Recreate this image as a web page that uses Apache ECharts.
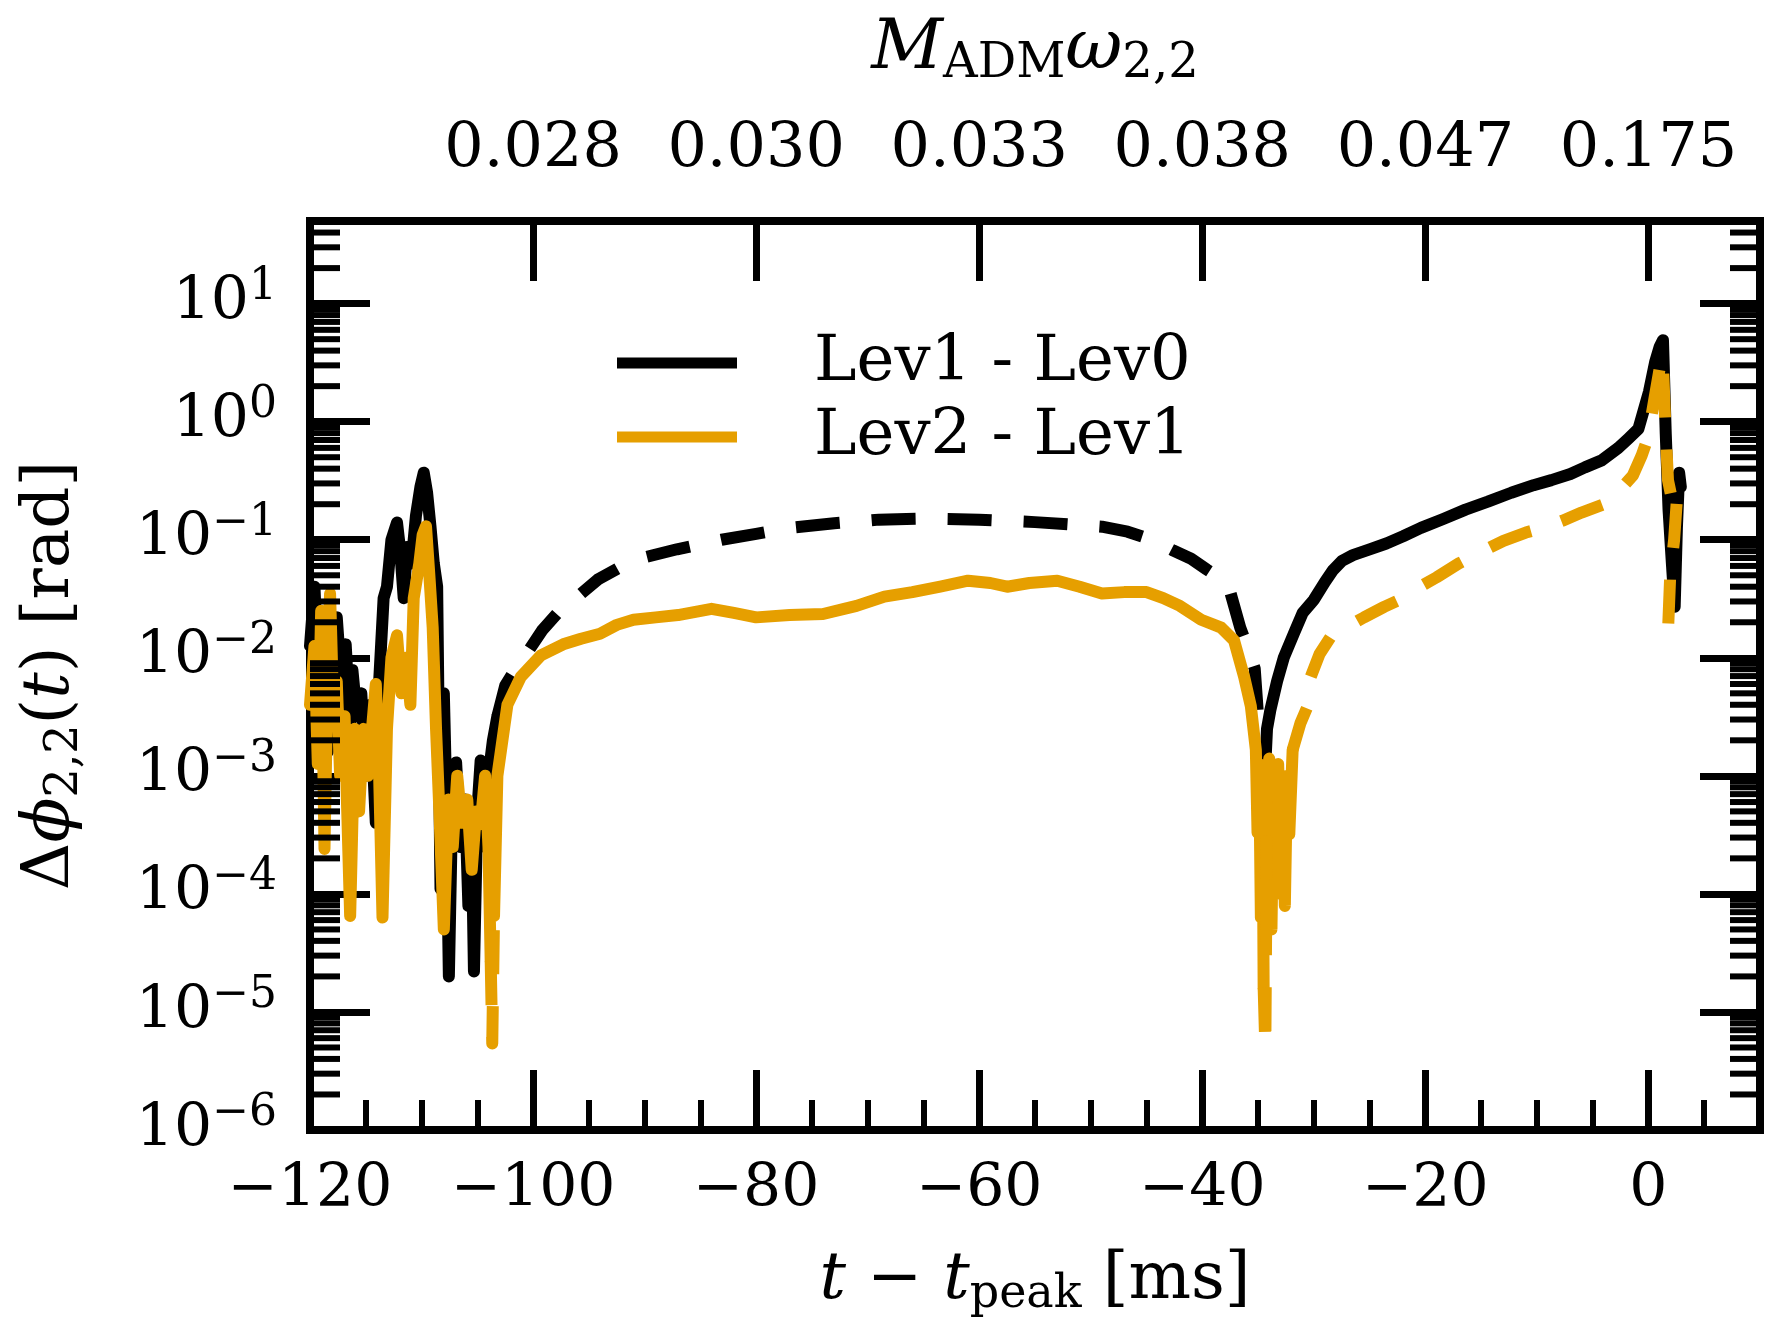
<!DOCTYPE html>
<html>
<head>
<meta charset="utf-8">
<script src="https://cdn.jsdelivr.net/npm/echarts@6/dist/echarts.min.js"></script>
<style>
  html, body { margin: 0; padding: 0; background: #ffffff; }
  #chart { width: 1767px; height: 1331px; }
</style>
</head>
<body>
<div id="chart"></div>
<script>
const FONT = 'DejaVu Serif';
const BLACK = '#000000';
const ORANGE = '#E69F00';

// Frequency labels of the top axis, placed at the given times
const topTickTimes = [-100, -80, -60, -40, -20, 0];
const topTickLabels = ['0.028', '0.030', '0.033', '0.038', '0.047', '0.175'];

// Lev1 - Lev0 : |delta phi_22| in rad against t - t_peak in ms
const lev10Time = [
  -120.0, -119.6, -119.2, -118.8, -118.4, -118.0, -117.6, -117.2, -116.8, -116.4,
  -116.2, -115.8, -115.4, -115.0, -114.6, -114.1, -113.8, -113.4, -113.1, -112.7,
  -112.2, -111.9, -111.6, -111.3, -110.9, -110.5, -110.1, -109.8, -109.5, -109.2,
  -108.9, -108.6, -108.3, -108.0, -107.8, -107.55, -107.2, -106.9, -106.5, -106.1,
  -105.8, -105.5, -105.3, -105.0, -104.7, -104.3, -104.0, -103.6, -103.2,
  -102.5, -101.5, -100.4, -99.2, -97.8, -96.0, -94.2, -92.0, -90.0, -87.1,
  -83.1, -80.0, -77.0, -73.0, -69.0, -64.9, -60.0, -55.0, -52.0, -49.0,
  -46.7, -44.5, -42.6, -41.0, -39.6, -38.5, -37.6, -36.6, -35.9, -35.3,
  -35.0, -34.85, -34.8,
  -34.5, -34.2, -33.9, -33.3, -32.7, -31.8, -31.0, -30.0, -29.0, -28.3,
  -27.5, -26.5, -25.0, -23.5, -22.0, -20.4, -18.4, -16.4, -14.4, -12.3,
  -10.3, -8.7, -7.0, -5.7, -4.2, -2.7, -1.8, -0.9, 0.05, 0.6,
  1.0, 1.3, 1.55, 1.8, 2.1, 2.35, 2.55, 2.75, 2.9
];
const lev10Dphi = [
  1.26e-2, 4.0e-2, 5.0e-3, 1.6e-2, 1.6e-3, 1.8e-2, 2.2e-2, 6.3e-3, 1.3e-2, 2.5e-3,
  7.9e-3, 3.2e-3, 5.0e-3, 1.0e-3, 4.0e-3, 4.0e-4, 6.3e-3, 3.2e-2, 4.0e-2, 0.10,
  0.14, 7.9e-2, 3.2e-2, 8.7e-2, 6.3e-2, 0.16, 0.28, 0.37, 0.25, 0.13,
  6.3e-2, 4.0e-2, 1.1e-4, 5.0e-3, 7.9e-4, 2.0e-5, 1.0e-3, 1.3e-3, 2.5e-4, 6.3e-4,
  7.9e-5, 3.2e-4, 2.2e-5, 5.0e-4, 1.35e-3, 2.5e-4, 1.0e-3, 2.0e-3, 3.2e-3,
  5.8e-3, 8.3e-3, 1.15e-2, 1.7e-2, 2.4e-2, 3.3e-2, 4.6e-2, 6.0e-2, 7.1e-2, 8.3e-2,
  0.100, 0.112, 0.126, 0.138, 0.148, 0.151, 0.148, 0.141, 0.135, 0.129,
  0.117, 0.100, 8.1e-2, 6.9e-2, 5.6e-2, 4.8e-2, 3.9e-2, 1.8e-2, 1.2e-2, 8.1e-3,
  3.2e-3, 1.0e-3, 3.2e-4,
  6.3e-4, 2.5e-3, 3.6e-3, 6.3e-3, 1.0e-2, 1.6e-2, 2.4e-2, 3.1e-2, 4.4e-2, 5.5e-2,
  6.6e-2, 7.4e-2, 8.3e-2, 9.3e-2, 0.107, 0.126, 0.150, 0.180, 0.210, 0.250,
  0.290, 0.320, 0.360, 0.410, 0.470, 0.600, 0.720, 0.870, 1.8, 3.2,
  4.3, 4.9, 0.79, 0.18, 6.3e-2, 2.7e-2, 0.126, 0.37, 0.28
];
// spans of t where the difference is negative (drawn dashed)
const lev10DashedSpans = [[-103.2, -34.8]];

// Lev2 - Lev1
const lev21Time = [
  -120.0, -119.6, -119.3, -119.0, -118.7, -118.4, -118.2, -117.9, -117.6, -117.3,
  -116.9, -116.4, -116.0, -115.6, -115.2, -114.8, -114.1, -113.8, -113.5, -113.1,
  -112.7, -112.2, -111.8, -111.4, -111.0, -110.7, -110.2, -109.9, -109.6, -109.3,
  -109.0, -108.7, -108.4, -108.0, -107.6, -107.2, -106.8, -106.4, -105.9, -105.5,
  -105.1, -104.7, -104.3, -104.0, -103.8, -103.66, -103.5, -103.2, -102.3, -101.1,
  -99.3, -97.3, -95.7, -94.0, -92.5, -91.0, -89.0, -87.0, -84.0, -82.0,
  -80.0, -77.0, -74.0, -71.0, -68.5, -66.0, -63.5, -61.0, -59.0, -57.5,
  -55.5, -53.0, -51.0, -49.0, -47.0, -45.0, -43.5, -42.0, -40.1, -38.3,
  -37.15, -36.25, -35.65, -35.2, -35.05, -34.9, -34.75, -34.6, -34.5, -34.35,
  -34.2, -34.0, -33.8, -33.6, -33.4, -33.2, -33.0, -32.8, -32.6, -32.4,
  -32.2, -31.9, -31.2, -30.5, -30.3, -29.5, -28.5, -27.5, -26.7, -25.5,
  -23.7, -22.0, -20.5, -19.0, -17.0, -15.0, -13.0, -11.0, -9.0, -7.7,
  -6.0, -4.0, -2.8, -1.4, -0.6, -0.08, 0.5, 1.0, 1.27, 1.5,
  1.75, 2.3, 2.55, 2.3, 1.95, 1.75
];
const lev21Dphi = [
  4.0e-3, 1.26e-2, 1.26e-3, 2.5e-2, 2.4e-4, 1.0e-2, 3.5e-2, 3.2e-3, 6.3e-3, 1.0e-3,
  3.2e-3, 6.5e-5, 2.5e-3, 5.0e-4, 2.5e-3, 1.0e-3, 6.0e-3, 1.0e-3, 6.3e-5, 2.5e-3,
  1.0e-2, 1.55e-2, 5.0e-3, 1.0e-2, 4.0e-3, 3.2e-2, 6.3e-2, 0.11, 0.13, 5.0e-2,
  1.8e-2, 2.5e-3, 5.0e-4, 5.0e-5, 6.3e-4, 2.5e-4, 1.0e-3, 4.0e-4, 6.3e-4, 1.6e-4,
  5.0e-4, 3.9e-4, 1.0e-3, 2.5e-4, 2.7e-5, 5.4e-6, 6.5e-5, 1.0e-3, 4.0e-3, 6.9e-3,
  1.05e-2, 1.3e-2, 1.45e-2, 1.6e-2, 1.9e-2, 2.1e-2, 2.2e-2, 2.3e-2, 2.6e-2, 2.4e-2,
  2.2e-2, 2.3e-2, 2.35e-2, 2.75e-2, 3.3e-2, 3.6e-2, 4.0e-2, 4.5e-2, 4.3e-2, 4.0e-2,
  4.3e-2, 4.5e-2, 4.0e-2, 3.5e-2, 3.6e-2, 3.6e-2, 3.2e-2, 2.75e-2, 2.1e-2, 1.8e-2,
  1.4e-2, 6.9e-3, 3.9e-3, 1.66e-3, 3.3e-4, 1.26e-3, 6.3e-5, 7.9e-4, 1.6e-5, 5.0e-6,
  6.3e-4, 1.4e-3, 5.0e-5, 1.0e-3, 1.0e-4, 1.26e-3, 2.5e-4, 5.0e-4, 7.9e-5, 1.0e-3,
  3.2e-4, 1.66e-3, 2.8e-3, 4.0e-3, 6.8e-3, 1.07e-2, 1.5e-2, 1.66e-2, 1.9e-2, 2.2e-2,
  2.7e-2, 3.2e-2, 4.0e-2, 4.8e-2, 6.3e-2, 7.9e-2, 9.8e-2, 0.115, 0.130, 0.145,
  0.170, 0.200, 0.250, 0.350, 0.520, 0.720, 1.5, 2.8, 3.6, 1.0,
  0.32, 0.18, 0.22, 0.10, 5.0e-2, 1.66e-2
];
const lev21DashedSpans = [[-103.8, -103.5], [-34.5, -34.2], [-31.9, 3.0]];

// Split one curve into a solid part and a dashed part; span edges belong to both
function splitBySign(times, values, spans) {
  const solid = [];
  const dashed = [];
  for (let i = 0; i < times.length; i++) {
    const t = times[i];
    const v = values[i];
    const inside = spans.some(s => t > s[0] && t < s[1]);
    const edge = spans.some(s => t === s[0] || t === s[1]);
    solid.push(inside ? [t, null] : [t, v]);
    dashed.push(inside || edge ? [t, v] : [t, null]);
  }
  return { solid, dashed };
}

const lev10 = splitBySign(lev10Time, lev10Dphi, lev10DashedSpans);
const lev21 = splitBySign(lev21Time, lev21Dphi, lev21DashedSpans);

// log-axis minor tick positions (2..9 per decade)
const Y_MIN = 1e-6;
const Y_MAX = 50.12;
const minorTickVals = [];
for (let e = -6; e <= 1; e++) {
  for (let k = 2; k <= 9; k++) {
    const v = k * Math.pow(10, e);
    if (v < Y_MAX) minorTickVals.push([-120, v]);
  }
}

function logLabel(v) {
  const e = Math.log10(v);
  const r = Math.round(e);
  if (Math.abs(e - r) > 1e-6) return '';
  const sup = r < 0 ? '\u2212' + (-r) : String(r);
  return '{b|10}{s|' + sup + '}';
}

function timeLabel(v) {
  if (Math.abs(v % 20) > 1e-9) return '';
  return v < 0 ? '\u2212' + (-v) : String(v);
}

const LINE_W = 12;
const DASH = [44, 32];
const lineBase = { type: 'line', showSymbol: false, symbol: 'none', connectNulls: false, animation: false, clip: true };
const tickStyle = { show: true, inside: true, length: 60, lineStyle: { color: BLACK, width: 7 } };

const chart = echarts.init(document.getElementById('chart'), null, { renderer: 'canvas' });
chart.setOption({
  animation: false,
  backgroundColor: '#ffffff',
  textStyle: { fontFamily: FONT, color: BLACK },
  grid: {
    left: 310, right: 7, top: 221, bottom: 201,
    show: true, borderColor: BLACK, borderWidth: 8, backgroundColor: 'transparent'
  },
  legend: {
    data: ['Lev1 - Lev0', 'Lev2 - Lev1'],
    orient: 'vertical',
    left: 612, top: 326,
    icon: 'rect', itemWidth: 120, itemHeight: 11, itemGap: 10,
    selectedMode: false,
    textStyle: { fontFamily: FONT, fontSize: 64, color: BLACK, lineHeight: 64, padding: [0, 0, 0, 72] }
  },
  xAxis: [
    {
      type: 'value', position: 'bottom', min: -120, max: 10, interval: 20,
      axisLine: { show: false, onZero: false },
      splitLine: { show: false },
      axisTick: tickStyle,
      minorTick: { show: true, splitNumber: 4, length: 30, lineStyle: { color: BLACK, width: 6 } },
      axisLabel: { formatter: timeLabel, margin: 30, fontFamily: FONT, fontSize: 60, color: BLACK },
      name: '{i|t} \u2212 {i|t}{sub|peak} [ms]',
      nameLocation: 'middle', nameGap: 114,
      nameTextStyle: {
        fontFamily: FONT, fontSize: 66, color: BLACK,
        rich: {
          i: { fontFamily: FONT, fontSize: 66, fontStyle: 'italic', color: BLACK },
          sub: { fontFamily: FONT, fontSize: 46, color: BLACK, padding: [28, 0, 0, 0] }
        }
      }
    },
    {
      type: 'value', position: 'top', min: -120, max: 10, interval: 20,
      axisLine: { show: false, onZero: false },
      splitLine: { show: false },
      axisTick: tickStyle,
      minorTick: { show: false },
      axisLabel: {
        margin: 40, fontFamily: FONT, fontSize: 62, color: BLACK,
        formatter: v => {
          const i = topTickTimes.indexOf(v);
          return i >= 0 ? topTickLabels[i] : '';
        }
      },
      name: '{i|M}{sub|ADM}{i|\u03C9}{sub|2,2}',
      nameLocation: 'middle', nameGap: 132,
      nameTextStyle: {
        fontFamily: FONT, fontSize: 70, color: BLACK,
        rich: {
          i: { fontFamily: FONT, fontSize: 70, fontStyle: 'italic', color: BLACK },
          sub: { fontFamily: FONT, fontSize: 48, color: BLACK, padding: [30, 0, 0, 0] }
        }
      }
    }
  ],
  yAxis: [
    {
      type: 'log', logBase: 10, position: 'left', min: Y_MIN, max: Y_MAX, interval: 1,
      axisLine: { show: false, onZero: false },
      splitLine: { show: false },
      minorTick: { show: false },
      axisTick: tickStyle,
      axisLabel: {
        formatter: logLabel, margin: 33, color: BLACK,
        rich: {
          b: { fontFamily: FONT, fontSize: 60, color: BLACK },
          s: { fontFamily: FONT, fontSize: 44, color: BLACK, padding: [0, 0, 32, 0] }
        }
      },
      name: '\u0394{i|\u03D5}{sub|2,2}({i|t}) [rad]',
      nameLocation: 'middle', nameRotate: 90, nameGap: 222,
      nameTextStyle: {
        fontFamily: FONT, fontSize: 66, color: BLACK,
        rich: {
          i: { fontFamily: FONT, fontSize: 66, fontStyle: 'italic', color: BLACK },
          sub: { fontFamily: FONT, fontSize: 46, color: BLACK, padding: [28, 0, 0, 0] }
        }
      }
    },
    {
      type: 'log', logBase: 10, position: 'right', min: Y_MIN, max: Y_MAX, interval: 1,
      axisLine: { show: false, onZero: false },
      splitLine: { show: false },
      minorTick: { show: false },
      axisTick: tickStyle,
      axisLabel: { show: false }
    }
  ],
  series: [
    Object.assign({}, lineBase, {
      name: 'Lev1 - Lev0', data: lev10.solid, z: 2,
      itemStyle: { color: BLACK },
      lineStyle: { color: BLACK, width: LINE_W, cap: 'round', join: 'round' }
    }),
    Object.assign({}, lineBase, {
      name: 'Lev1 - Lev0', data: lev10.dashed, z: 2,
      itemStyle: { color: BLACK },
      lineStyle: { color: BLACK, width: LINE_W, type: DASH, cap: 'butt', join: 'round' }
    }),
    Object.assign({}, lineBase, {
      name: 'Lev2 - Lev1', data: lev21.solid, z: 3,
      itemStyle: { color: ORANGE },
      lineStyle: { color: ORANGE, width: LINE_W, cap: 'round', join: 'round' }
    }),
    Object.assign({}, lineBase, {
      name: 'Lev2 - Lev1', data: lev21.dashed, z: 3,
      itemStyle: { color: ORANGE },
      lineStyle: { color: ORANGE, width: LINE_W, type: DASH, cap: 'butt', join: 'round' }
    }),
    {
      // minor ticks of the logarithmic axes, left and right side
      type: 'custom', name: 'minorTicks', silent: true, z: 5, animation: false,
      xAxisIndex: 0, yAxisIndex: 0,
      data: minorTickVals,
      renderItem: (params, api) => {
        const y = api.coord([-120, api.value(1)])[1];
        const cs = params.coordSys;
        const style = { stroke: BLACK, lineWidth: 6 };
        return {
          type: 'group',
          children: [
            { type: 'line', shape: { x1: cs.x, y1: y, x2: cs.x + 30, y2: y }, style },
            { type: 'line', shape: { x1: cs.x + cs.width - 30, y1: y, x2: cs.x + cs.width, y2: y }, style }
          ]
        };
      }
    }
  ]
});
</script>
</body>
</html>
